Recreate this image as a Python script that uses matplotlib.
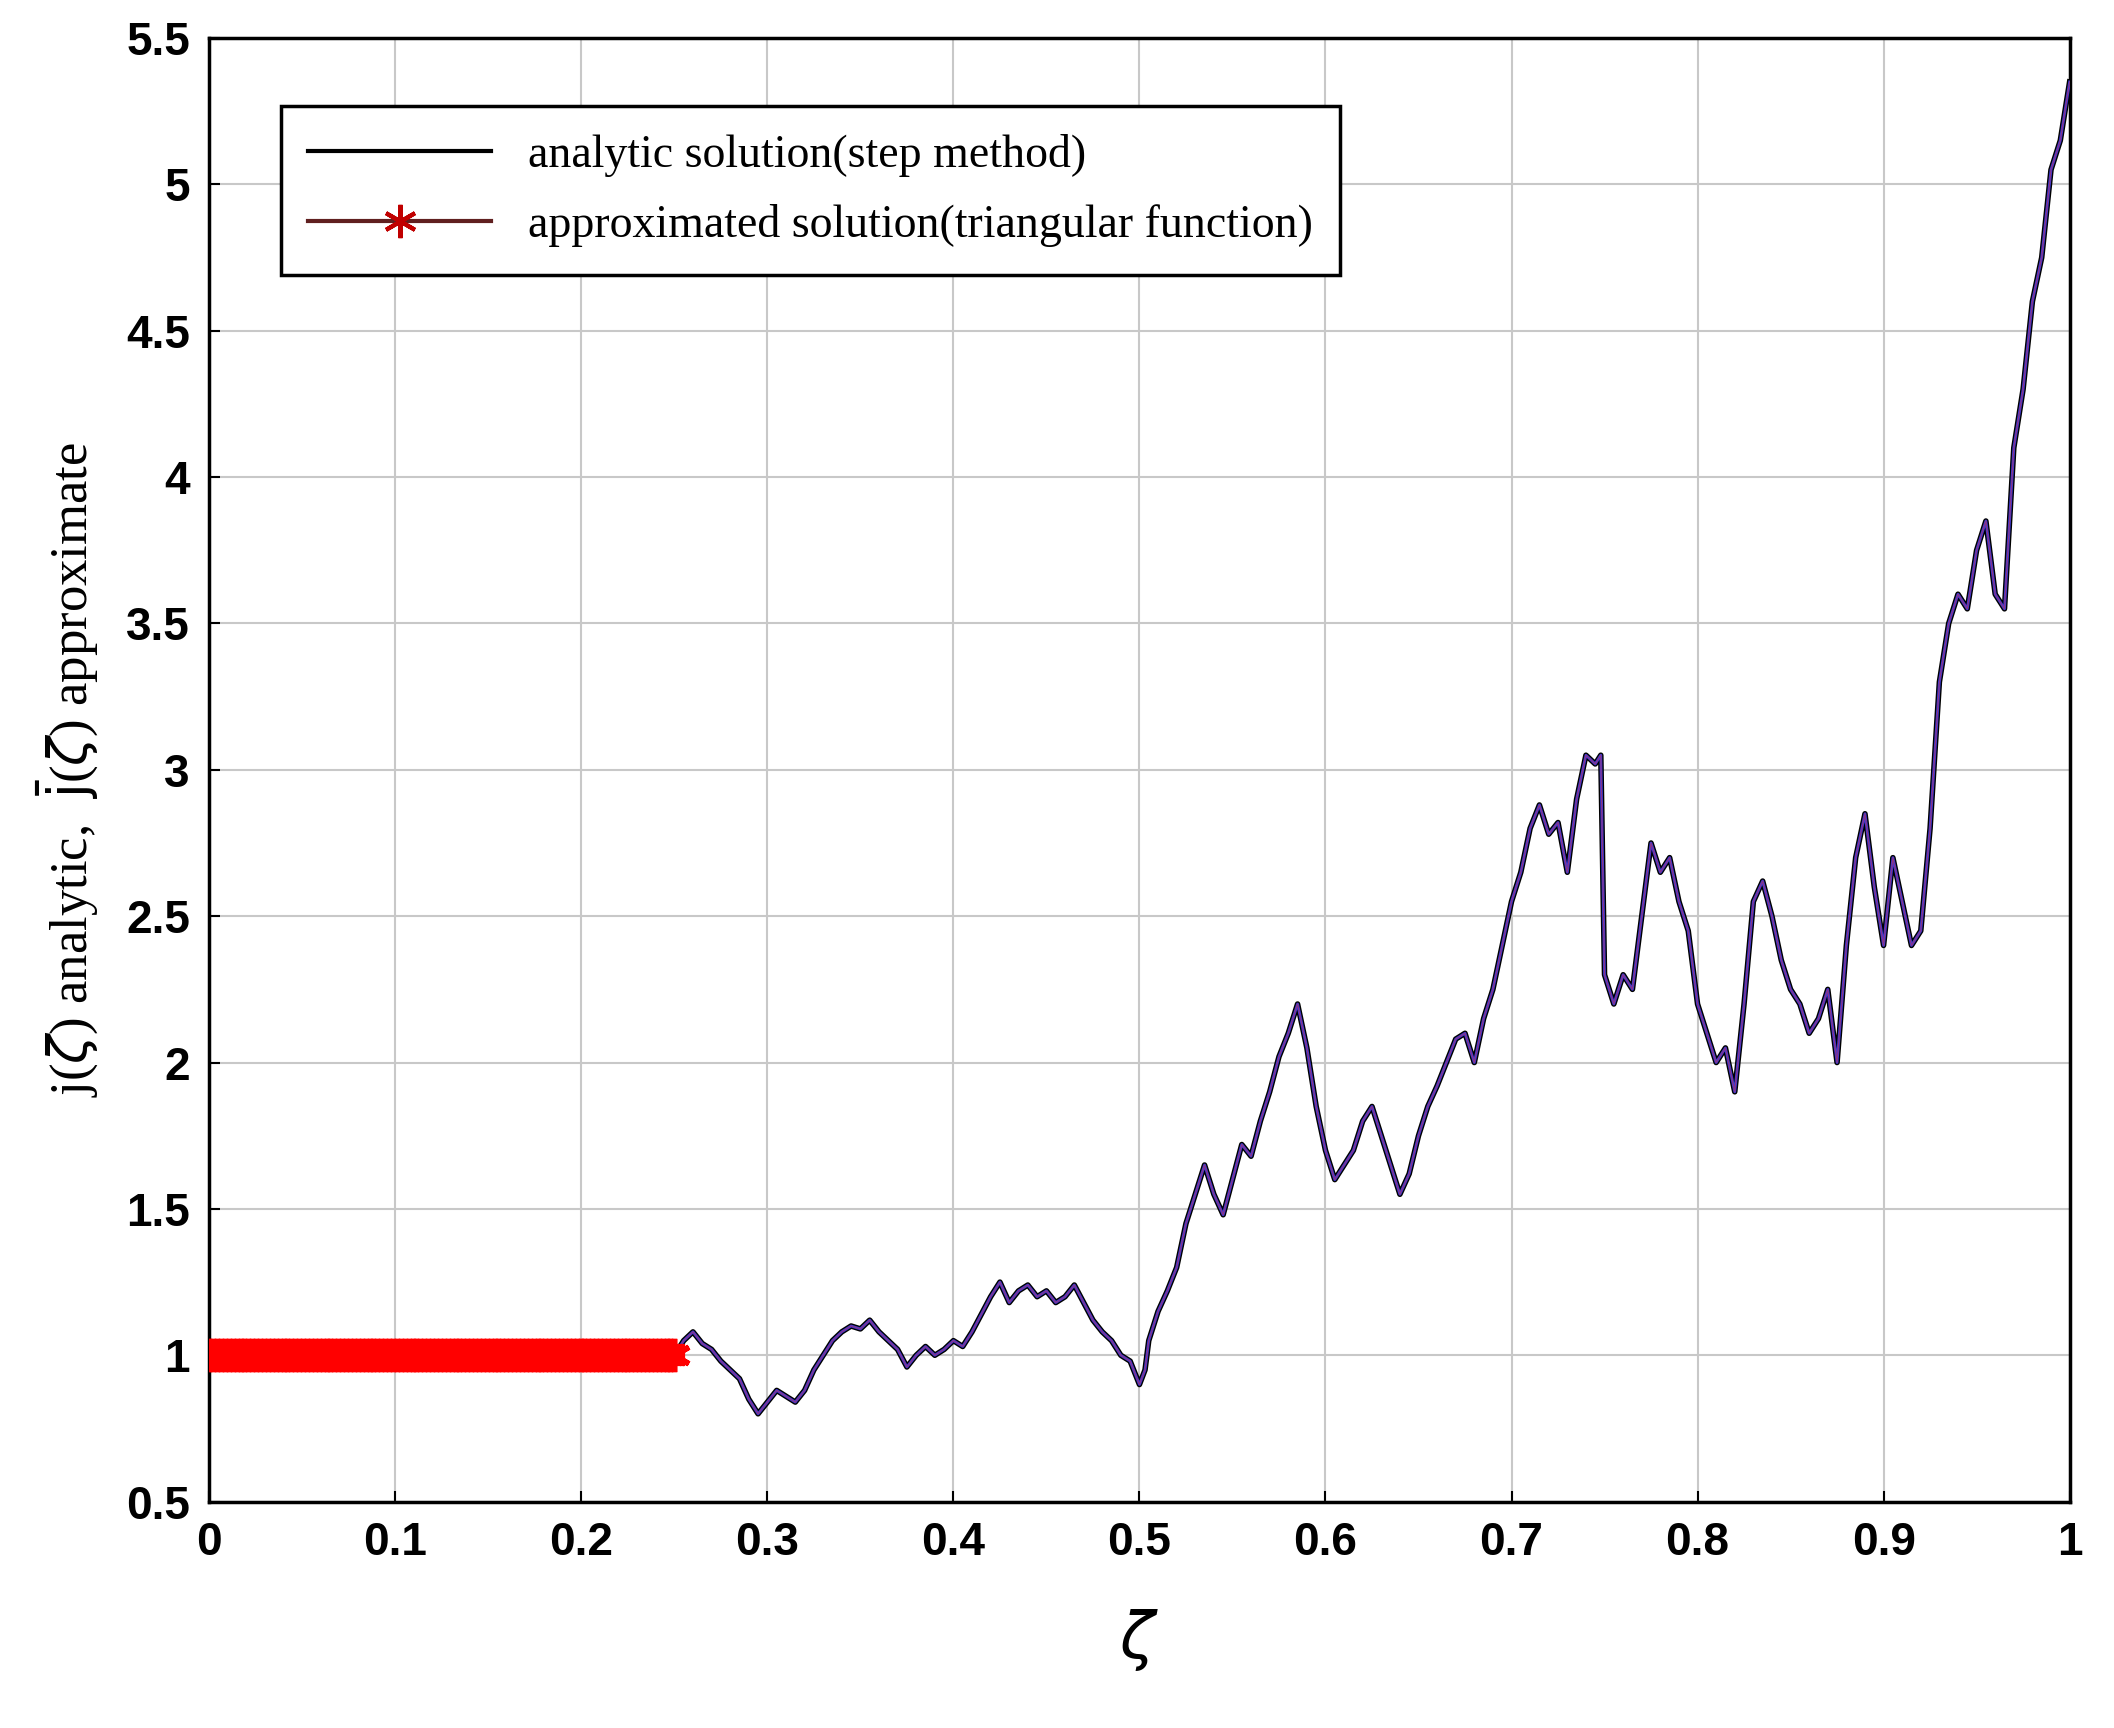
import numpy as np
import matplotlib.pyplot as plt

# waypoints
zeta = [0.0, 0.25, 0.255, 0.26, 0.265, 0.27, 0.275, 0.28, 0.285, 0.29, 0.295, 0.30, 0.305, 0.31, 0.315,
        0.32, 0.325, 0.33, 0.335, 0.34, 0.345, 0.35, 0.355, 0.36, 0.365, 0.37, 0.375, 0.38, 0.385,
        0.39, 0.395, 0.40, 0.405, 0.41, 0.415, 0.42, 0.425, 0.43, 0.435, 0.44, 0.445, 0.45, 0.455,
        0.46, 0.465, 0.47, 0.475, 0.48, 0.485, 0.49, 0.495, 0.50, 0.503, 0.505, 0.51, 0.515, 0.52,
        0.525, 0.53, 0.535, 0.54, 0.545, 0.55, 0.555, 0.56, 0.565, 0.57, 0.575, 0.58, 0.585, 0.59,
        0.595, 0.60, 0.605, 0.61, 0.615, 0.62, 0.625, 0.63, 0.635, 0.64, 0.645, 0.65, 0.655, 0.66,
        0.665, 0.67, 0.675, 0.68, 0.685, 0.69, 0.695, 0.70, 0.705, 0.71, 0.715, 0.72, 0.725, 0.73,
        0.735, 0.74, 0.745, 0.748, 0.75, 0.755, 0.76, 0.765, 0.77, 0.775, 0.78, 0.785, 0.79, 0.795,
        0.80, 0.805, 0.81, 0.815, 0.82, 0.825, 0.83, 0.835, 0.84, 0.845, 0.85, 0.855, 0.86, 0.865,
        0.87, 0.875, 0.88, 0.885, 0.89, 0.895, 0.90, 0.905, 0.91, 0.915, 0.92, 0.925, 0.93, 0.935,
        0.94, 0.945, 0.95, 0.955, 0.96, 0.965, 0.97, 0.975, 0.98, 0.985, 0.99, 0.995, 1.0]
j_val = [1.0, 1.0, 1.05, 1.08, 1.04, 1.02, 0.98, 0.95, 0.92, 0.85, 0.80, 0.84, 0.88, 0.86, 0.84,
         0.88, 0.95, 1.0, 1.05, 1.08, 1.10, 1.09, 1.12, 1.08, 1.05, 1.02, 0.96, 1.0, 1.03,
         1.0, 1.02, 1.05, 1.03, 1.08, 1.14, 1.20, 1.25, 1.18, 1.22, 1.24, 1.20, 1.22, 1.18,
         1.20, 1.24, 1.18, 1.12, 1.08, 1.05, 1.0, 0.98, 0.90, 0.95, 1.05, 1.15, 1.22, 1.30,
         1.45, 1.55, 1.65, 1.55, 1.48, 1.60, 1.72, 1.68, 1.80, 1.90, 2.02, 2.10, 2.20, 2.05,
         1.85, 1.70, 1.60, 1.65, 1.70, 1.80, 1.85, 1.75, 1.65, 1.55, 1.62, 1.75, 1.85, 1.92,
         2.00, 2.08, 2.10, 2.00, 2.15, 2.25, 2.40, 2.55, 2.65, 2.80, 2.88, 2.78, 2.82, 2.65,
         2.90, 3.05, 3.02, 3.05, 2.30, 2.20, 2.30, 2.25, 2.50, 2.75, 2.65, 2.70, 2.55, 2.45,
         2.20, 2.10, 2.00, 2.05, 1.90, 2.20, 2.55, 2.62, 2.50, 2.35, 2.25, 2.20, 2.10, 2.15,
         2.25, 2.00, 2.40, 2.70, 2.85, 2.60, 2.40, 2.70, 2.55, 2.40, 2.45, 2.80, 3.30, 3.50,
         3.60, 3.55, 3.75, 3.85, 3.60, 3.55, 4.10, 4.30, 4.60, 4.75, 5.05, 5.15, 5.35]

flat_end = 0.25
n_marks = 120

plt.rcParams['font.family'] = ['Liberation Serif', 'DejaVu Serif']
fig = plt.figure(figsize=(21.14, 17.28), dpi=100)
ax = fig.add_axes([0.099, 0.131, 0.88, 0.847])

ax.plot(zeta, j_val, color='black', lw=4, zorder=3)
ax.plot(zeta, j_val, color='#3a3ad8', lw=2, zorder=4)
ax.plot(zeta, j_val, color='#c03050', lw=0.9, alpha=0.6, zorder=5)
xm = np.linspace(0, flat_end, n_marks)
ax.plot(xm, np.ones_like(xm), color='red', marker=(6, 2, 0), ms=24, mew=4, lw=16, zorder=6)

ax.set_xlim(0, 1)
ax.set_ylim(0.5, 5.5)
ax.set_xticks(np.arange(0, 1.01, 0.1))
ax.set_xticklabels(['0', '0.1', '0.2', '0.3', '0.4', '0.5', '0.6', '0.7', '0.8', '0.9', '1'])
ax.set_yticks(np.arange(0.5, 5.51, 0.5))
ax.set_yticklabels(['0.5', '1', '1.5', '2', '2.5', '3', '3.5', '4', '4.5', '5', '5.5'])
for lab in ax.get_xticklabels() + ax.get_yticklabels():
    lab.set_fontfamily('Liberation Sans')
    lab.set_fontweight('bold')
    lab.set_fontsize(33)
ax.tick_params(direction='in', length=8, width=1.5, pad=14)
ax.grid(True, color='#c8c8c8', lw=1.5)
for s in ax.spines.values():
    s.set_linewidth(2.5)

ax.set_xlabel(r'$\zeta$', fontsize=46, labelpad=30)
ax.set_ylabel(r'j($\zeta$) analytic,  $\bar{\rm j}$($\zeta$) approximate', fontsize=38, labelpad=18)

h1, = ax.plot([], [], color='black', lw=3)
h2, = ax.plot([], [], color='#602020', lw=3, marker=(6, 2, 0), mfc='#c00000', mec='#c00000', ms=24, mew=3)
leg = ax.legend([h1, h2], ['analytic solution(step method)',
                           'approximated solution(triangular function)'],
                loc='upper left', bbox_to_anchor=(0.026, 0.969), fontsize=33,
                fancybox=False, edgecolor='black', framealpha=1, handlelength=4,
                borderpad=0.6, labelspacing=0.6)
leg.get_frame().set_linewidth(2.5)

fig.savefig('out.png', dpi=100)
